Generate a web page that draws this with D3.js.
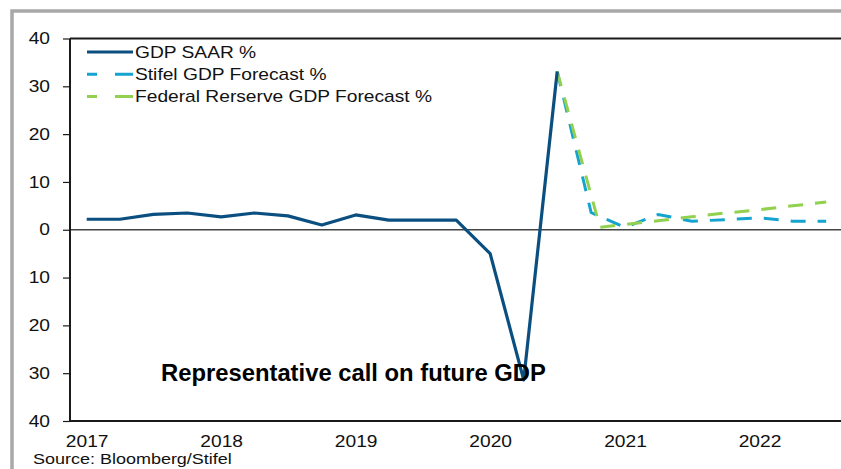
<!DOCTYPE html>
<html>
<head>
<meta charset="utf-8">
<script src="https://cdn.jsdelivr.net/npm/d3@7"></script>
<style>
  html, body { margin: 0; padding: 0; background: #fff; }
  svg { display: block; font-family: 'Liberation Sans', Arial, sans-serif; }
</style>
</head>
<body>
<div class="chart"></div>
<script>
// 数据
const gdpQuarters = ['2017-01-01', '2017-04-01', '2017-07-01', '2017-10-01',
  '2018-01-01', '2018-04-01', '2018-07-01', '2018-10-01',
  '2019-01-01', '2019-04-01', '2019-07-01', '2019-10-01',
  '2020-01-01', '2020-04-01', '2020-07-01'];
const gdpValues = [2.2, 2.2, 3.2, 3.5, 2.7, 3.5, 2.9, 1.0, 3.1, 2.0, 2.0, 2.0, -5.0, -31.4, 33.1];

const stifelQuarters = ['2020-07-01', '2020-10-01', '2021-01-01', '2021-04-01', '2021-07-01',
  '2021-10-01', '2022-01-01', '2022-04-01', '2022-07-01'];
const stifelValues = [33.1, 3.6, 0.5, 3.2, 1.8, 2.1, 2.5, 1.8, 1.8];

const fedDates = ['2020-07-01', '2020-10-25', '2021-01-01', '2021-04-01', '2021-07-01',
  '2021-10-01', '2022-01-01', '2022-04-01', '2022-07-01'];
const fedValues = [33.1, 0.5, 1.1, 1.9, 2.7, 3.5, 4.2, 5.0, 5.8];

const yTicks = [40, 30, 20, 10, 0, -10, -20, -30, -40];
const xYears = ['2017', '2018', '2019', '2020', '2021', '2022'];

const seriesNames = ['GDP SAAR %', 'Stifel GDP Forecast %', 'Federal Rerserve GDP Forecast %'];
const seriesColors = ['#0b4f80', '#15a4cf', '#92d050'];

const W = 841, H = 469;
const pLeft = 70, pTop = 38.5, pBottom = 421, pRight = 845;
const sx = 1.2; // 图表文字横向拉伸

const parse = d3.timeParse('%Y-%m-%d');

let svg = d3.select('.chart')
  .append('svg')
  .attr('width', W)
  .attr('height', H);

// 外框
svg.append('rect')
  .attr('x', 12).attr('y', 11)
  .attr('width', 900).attr('height', 600)
  .attr('fill', 'none')
  .attr('stroke', '#a8a8a8')
  .attr('stroke-width', 3.5);

let x = d3.scaleTime()
  .domain([parse('2017-01-01'), parse('2022-01-01')])
  .range([86.7, 759.5]);

let y = d3.scaleLinear()
  .domain([-40, 40])
  .range([pBottom, pTop]);

// 绘图区边框
svg.append('line')
  .attr('x1', pLeft).attr('x2', pRight)
  .attr('y1', pTop).attr('y2', pTop)
  .attr('stroke', '#1a1a1a').attr('stroke-width', 2);
svg.append('line')
  .attr('x1', pLeft).attr('x2', pRight)
  .attr('y1', pBottom).attr('y2', pBottom)
  .attr('stroke', '#1a1a1a').attr('stroke-width', 2);
svg.append('line')
  .attr('x1', pLeft).attr('x2', pRight)
  .attr('y1', y(0)).attr('y2', y(0))
  .attr('stroke', '#444').attr('stroke-width', 1.5);

// y 轴
let yAxis = svg.append('g')
  .attr('transform', `translate(${pLeft},0)`)
  .call(d3.axisLeft(y).tickValues(yTicks).tickSize(7).tickPadding(13)
    .tickFormat(d => Math.abs(d)));
yAxis.select('.domain')
  .attr('stroke', '#1a1a1a').attr('stroke-width', 2)
  .attr('d', `M0,${pTop}V${pBottom}`);
yAxis.selectAll('.tick line').attr('stroke', '#1a1a1a').attr('stroke-width', 1.2);
yAxis.selectAll('.tick text')
  .attr('font-size', 16)
  .attr('fill', '#111')
  .attr('x', -20 / sx)
  .attr('transform', `scale(${sx},1)`);

// x 轴
let xAxis = svg.append('g')
  .attr('transform', `translate(0,${pBottom})`)
  .call(d3.axisBottom(x)
    .tickValues(xYears.map(d => parse(d + '-01-01')))
    .tickSize(0).tickPadding(15)
    .tickFormat(d3.timeFormat('%Y')));
xAxis.select('.domain').remove();
xAxis.selectAll('.tick text')
  .attr('font-size', 16)
  .attr('fill', '#111')
  .attr('transform', `scale(${sx},1)`);

// 折线
let line = d3.line()
  .x(d => x(d[0]))
  .y(d => y(d[1]));

let zip = (dates, vals) => dates.map((d, i) => [parse(d), vals[i]]);

svg.append('path')
  .datum(zip(stifelQuarters, stifelValues))
  .attr('d', line)
  .attr('fill', 'none')
  .attr('stroke', seriesColors[1])
  .attr('stroke-width', 3)
  .attr('stroke-dasharray', '15,12');

svg.append('path')
  .datum(zip(fedDates, fedValues))
  .attr('d', line)
  .attr('fill', 'none')
  .attr('stroke', seriesColors[2])
  .attr('stroke-width', 3)
  .attr('stroke-dasharray', '15,12');

svg.append('path')
  .datum(zip(gdpQuarters, gdpValues))
  .attr('d', line)
  .attr('fill', 'none')
  .attr('stroke', seriesColors[0])
  .attr('stroke-width', 3.2)
  .attr('stroke-linejoin', 'round');

// 图例
let legend = svg.append('g')
  .selectAll('g')
  .data(seriesNames)
  .enter()
  .append('g')
  .attr('transform', (d, i) => `translate(87,${52 + i * 22.3})`);
legend.append('line')
  .attr('x1', 0).attr('x2', 46)
  .attr('stroke', (d, i) => seriesColors[i])
  .attr('stroke-width', 3)
  .attr('stroke-dasharray', (d, i) => i ? '10,18,18' : null);
legend.append('text')
  .attr('x', 48 / sx)
  .attr('dy', '0.35em')
  .attr('font-size', 16)
  .attr('fill', '#111')
  .attr('transform', `scale(${sx},1)`)
  .text(d => d);

// 标题与来源
svg.append('text')
  .attr('x', 161)
  .attr('y', 381)
  .attr('font-size', 23.8)
  .attr('font-weight', 'bold')
  .attr('fill', '#000')
  .text('Representative call on future GDP');

svg.append('text')
  .attr('x', 33 / sx)
  .attr('y', 464)
  .attr('font-size', 15)
  .attr('fill', '#111')
  .attr('transform', `scale(${sx},1)`)
  .text('Source: Bloomberg/Stifel');
</script>
</body>
</html>
